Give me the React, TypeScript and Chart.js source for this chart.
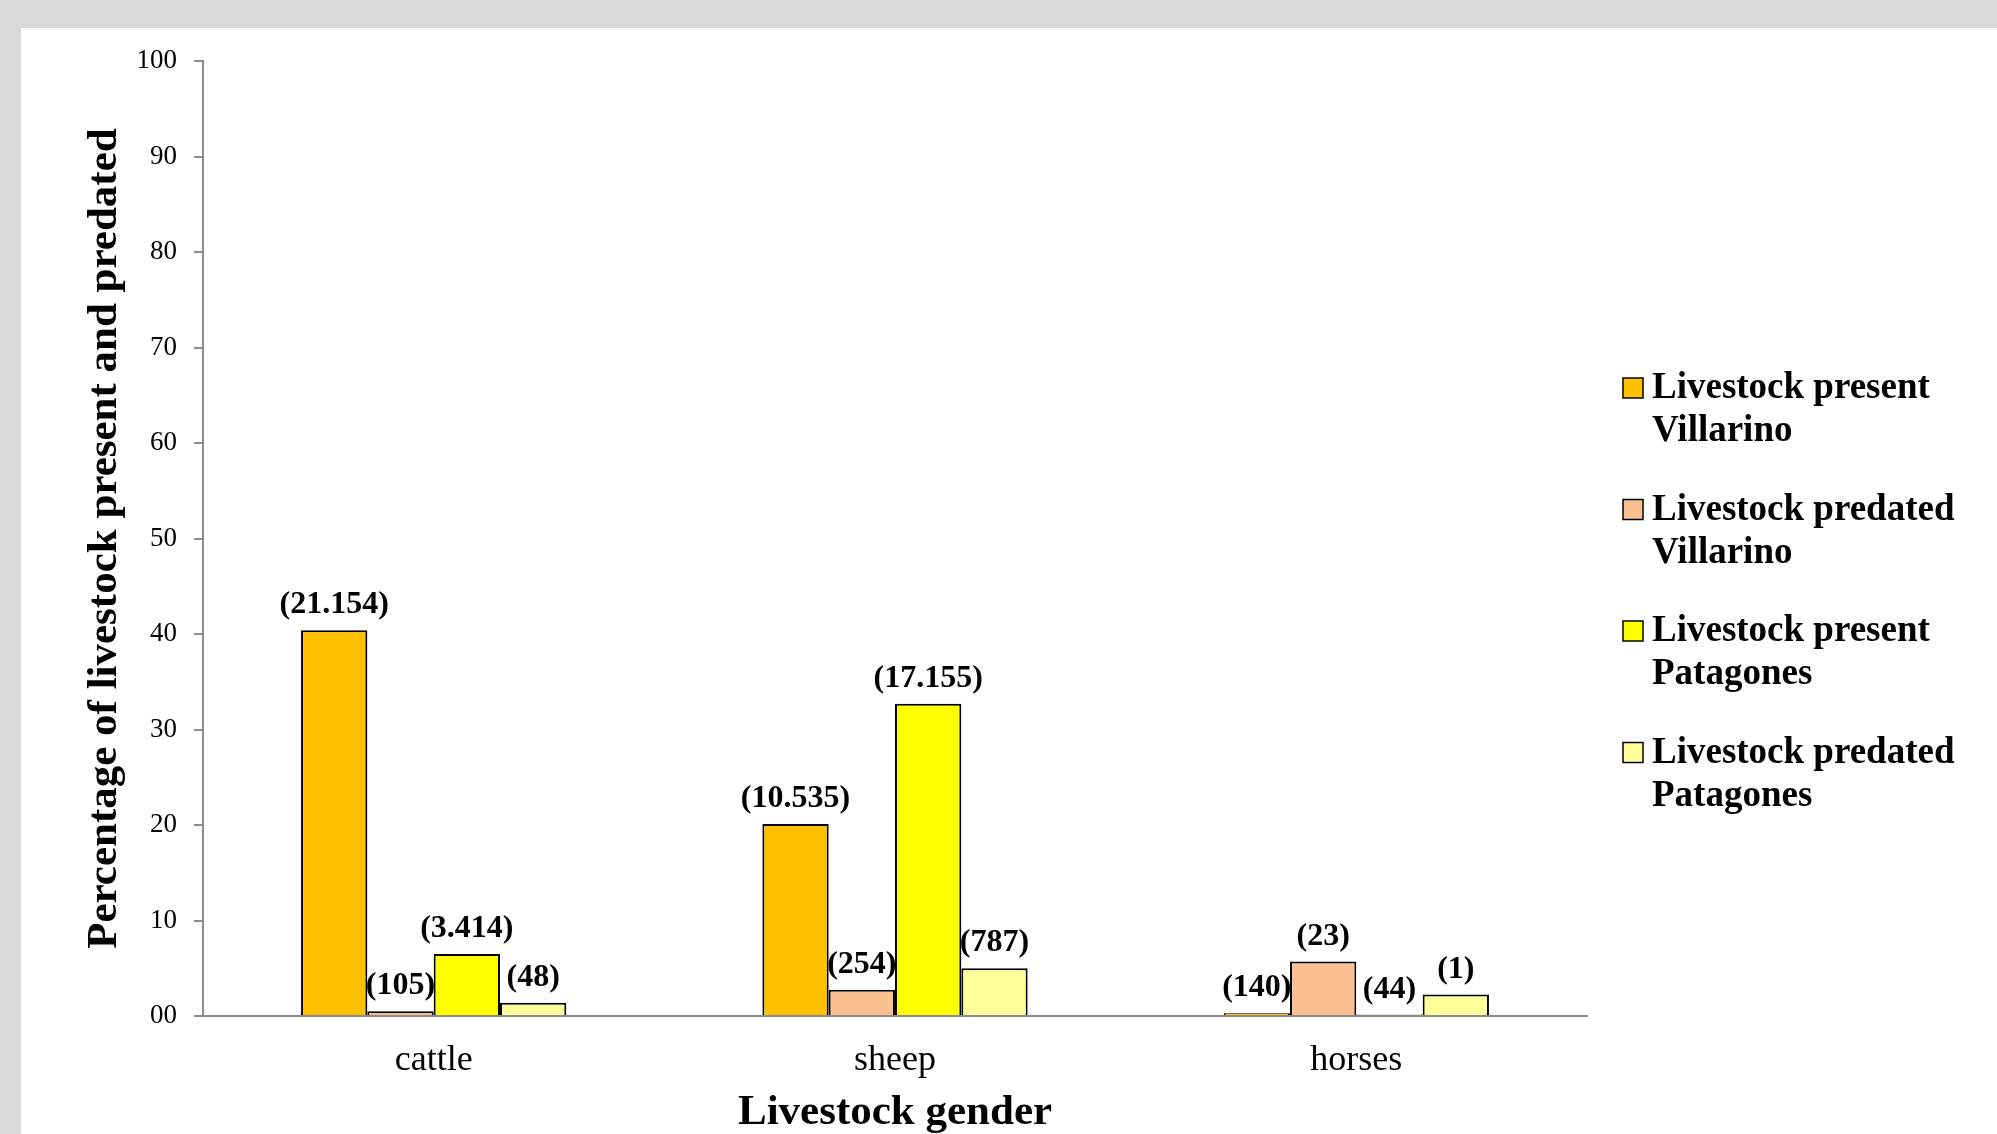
import React, { useEffect, useRef } from 'react';
import { Chart, registerables } from 'chart.js';

Chart.register(...registerables);

const categories = ['cattle', 'sheep', 'horses'];

const presentVillarino = [40.4, 20.1, 0.3];
const predatedVillarino = [0.5, 2.75, 5.7];
const presentPatagones = [6.5, 32.7, 0.15];
const predatedPatagones = [1.4, 5.0, 2.25];

const countsPresentVillarino = ['(21.154)', '(10.535)', '(140)'];
const countsPredatedVillarino = ['(105)', '(254)', '(23)'];
const countsPresentPatagones = ['(3.414)', '(17.155)', '(44)'];
const countsPredatedPatagones = ['(48)', '(787)', '(1)'];

const legendLines = [
  ['Livestock present', 'Villarino'],
  ['Livestock predated', 'Villarino'],
  ['Livestock present', 'Patagones'],
  ['Livestock predated', 'Patagones'],
];

const yTickLabels = ['00', '10', '20', '30', '40', '50', '60', '70', '80', '90', '100'];

const SERIF = '"Liberation Serif", "Times New Roman", serif';

const valueLabelPlugin = {
  id: 'valueLabels',
  afterDatasetsDraw(chart: any) {
    const ctx = chart.ctx;
    ctx.save();
    ctx.font = `bold 32px ${SERIF}`;
    ctx.fillStyle = '#000';
    ctx.textAlign = 'center';
    ctx.textBaseline = 'alphabetic';
    chart.data.datasets.forEach((ds: any, di: number) => {
      const meta = chart.getDatasetMeta(di);
      meta.data.forEach((el: any, i: number) => {
        const txt = ds.counts[i];
        ctx.fillText(txt, el.x, el.y - 17);
      });
    });
    ctx.restore();
  },
};

const customLegendPlugin = {
  id: 'customLegend',
  afterDraw(chart: any) {
    const ctx = chart.ctx;
    ctx.save();
    const boxX = 1602;
    const textX = 1631;
    const firstBaseline = 370;
    const entryGap = 121.5;
    const lineGap = 43;
    chart.data.datasets.forEach((ds: any, di: number) => {
      const base = firstBaseline + di * entryGap;
      ctx.fillStyle = ds.backgroundColor;
      ctx.fillRect(boxX, base - 20, 20, 20);
      ctx.lineWidth = 1.5;
      ctx.strokeStyle = '#000';
      ctx.strokeRect(boxX, base - 20, 20, 20);
      ctx.fillStyle = '#000';
      ctx.font = `bold 37px ${SERIF}`;
      ctx.textAlign = 'left';
      ctx.textBaseline = 'alphabetic';
      const lines = legendLines[di];
      lines.forEach((ln, li) => {
        ctx.fillText(ln, textX, base + li * lineGap);
      });
    });
    ctx.restore();
  },
};

export default function App() {
  const canvasRef = useRef<HTMLCanvasElement | null>(null);

  useEffect(() => {
    const canvas = canvasRef.current;
    if (!canvas) return;
    Chart.defaults.color = '#000';
    const mk = (label: string, data: number[], color: string, counts: string[]) => ({
      label,
      data,
      backgroundColor: color,
      borderColor: '#000',
      borderWidth: 2,
      borderSkipped: 'bottom',
      categoryPercentage: 0.575,
      barPercentage: 1.0,
      counts,
    });
    const chart = new Chart(canvas, {
      type: 'bar',
      data: {
        labels: categories,
        datasets: [
          mk(legendLines[0].join(' '), presentVillarino, '#FFC000', countsPresentVillarino),
          mk(legendLines[1].join(' '), predatedVillarino, '#FAC090', countsPredatedVillarino),
          mk(legendLines[2].join(' '), presentPatagones, '#FFFF00', countsPresentPatagones),
          mk(legendLines[3].join(' '), predatedPatagones, '#FFFF99', countsPredatedPatagones),
        ] as any,
      },
      options: {
        animation: false,
        responsive: false,
        devicePixelRatio: 1,
        layout: { padding: { left: 0, top: 29, right: 410, bottom: 0 } },
        plugins: {
          legend: { display: false },
          tooltip: { enabled: false },
          title: { display: false },
        },
        scales: {
          x: {
            grid: { display: false, drawTicks: false },
            border: { display: true, color: '#8c8c8c', width: 2 },
            ticks: {
              font: { family: SERIF, size: 36 },
              color: '#000',
              padding: 23,
            },
            title: {
              display: true,
              text: 'Livestock gender',
              font: { family: SERIF, size: 43, weight: 'bold', lineHeight: 1 },
              color: '#000',
              padding: { top: 0, bottom: 0 },
            },
            afterFit: (s: any) => {
              s.height = 118;
            },
          },
          y: {
            min: 0,
            max: 100,
            grid: {
              display: true,
              drawOnChartArea: false,
              drawTicks: true,
              tickLength: 9,
              color: '#8c8c8c',
              lineWidth: 2,
            },
            border: { display: true, color: '#8c8c8c', width: 2 },
            ticks: {
              stepSize: 10,
              font: { family: SERIF, size: 27 },
              color: '#000',
              padding: 17,
              callback: (_v: any, i: number) => yTickLabels[i],
            },
            title: {
              display: true,
              text: 'Percentage of livestock present and predated',
              font: { family: SERIF, size: 43, weight: 'bold', lineHeight: 1 },
              color: '#000',
              padding: { top: 62, bottom: 0 },
            },
            afterFit: (s: any) => {
              s.width = 182;
            },
          },
        },
      } as any,
      plugins: [valueLabelPlugin, customLegendPlugin],
    });
    return () => chart.destroy();
  }, []);

  return (
    <div style={{ position: 'fixed', left: 0, top: 0, right: 0, bottom: 0, background: '#d9d9d9', overflow: 'hidden' }}>
      <div style={{ position: 'absolute', left: 21, top: 28, width: 1976, height: 1106, background: '#ffffff' }}>
        <canvas ref={canvasRef} width={1976} height={1106} style={{ display: 'block', width: 1976, height: 1106 }} />
      </div>
    </div>
  );
}
